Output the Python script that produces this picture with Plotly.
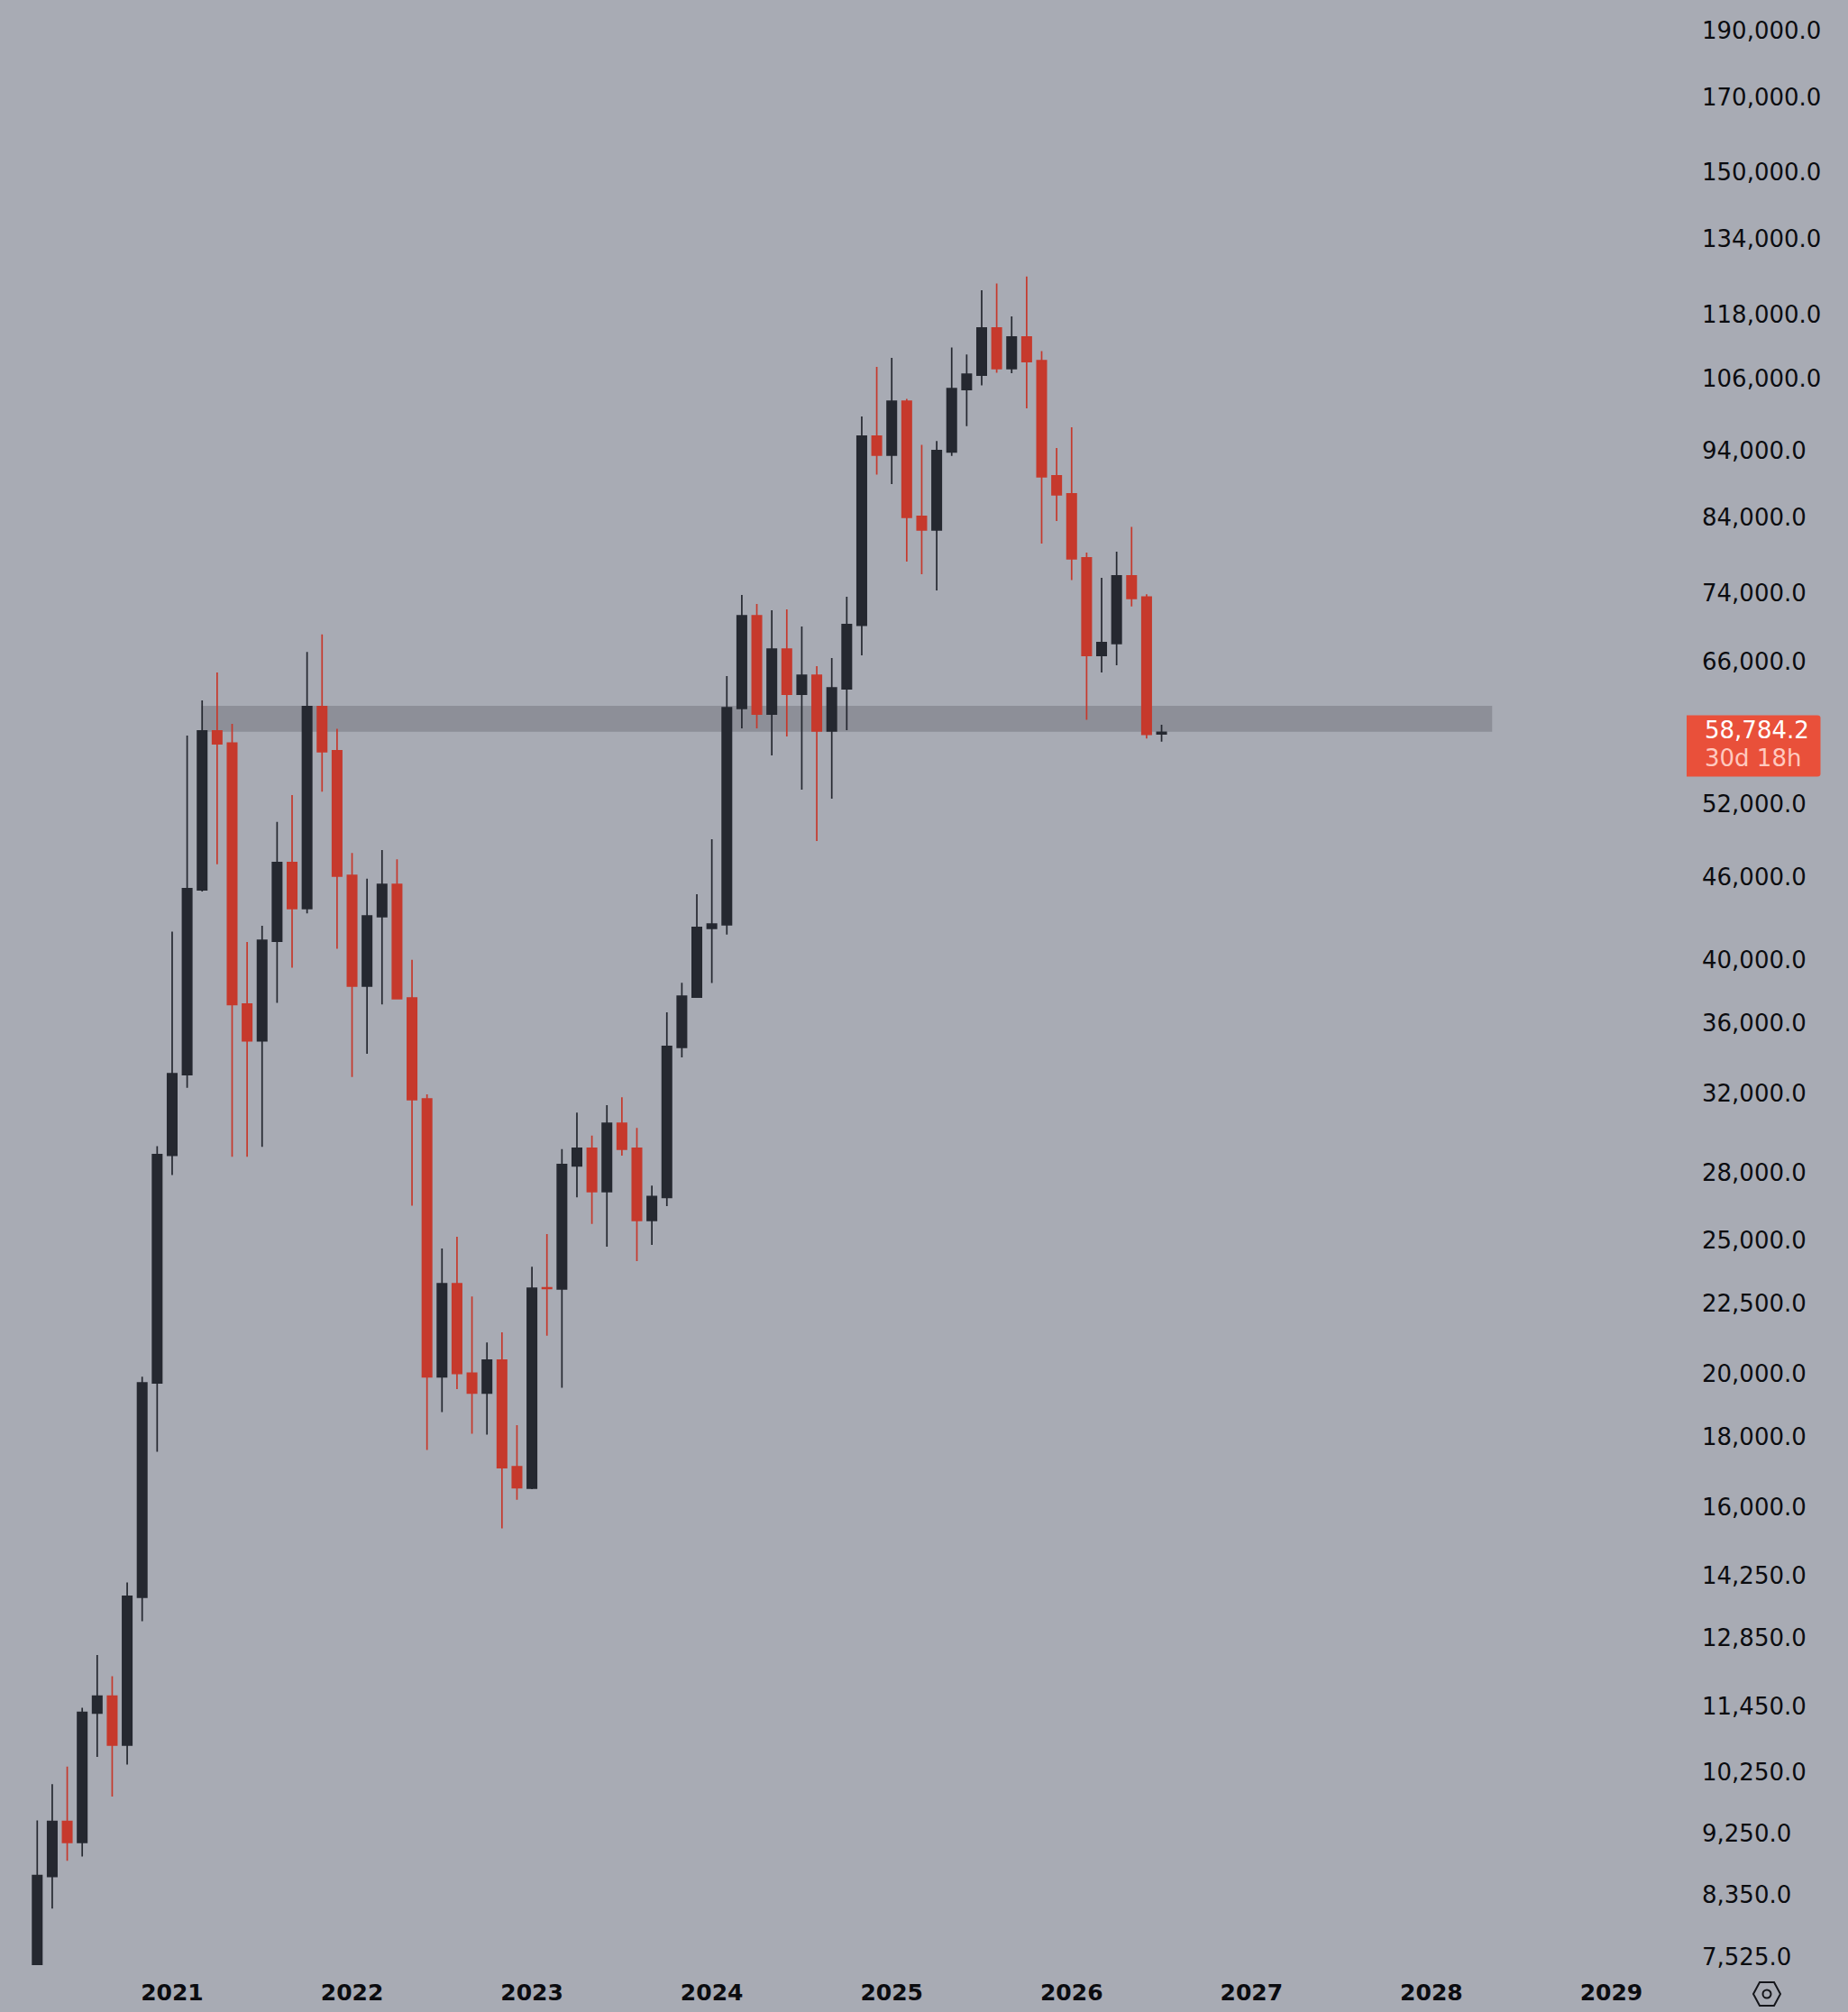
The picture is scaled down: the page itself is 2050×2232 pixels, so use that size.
import math
import pandas as pd
import plotly.graph_objects as go

# Monthly candles starting April 2020
months = pd.period_range("2020-04", periods=76, freq="M").astype(str).tolist()

opens = [6646, 8636, 9470, 9142, 11359, 11683, 10766, 13791, 19751, 28930, 33120, 45140, 58920, 57740, 37270, 35050,
         41420, 47250, 43750, 61380, 56990, 46250, 38410, 43150, 45550, 37660, 31800, 19958, 23330, 20080, 19419, 20520,
         17164, 16555, 23170, 23120, 28420, 29270, 27220, 30520, 29270, 25940, 26960, 34670, 37710, 42310, 42570, 61180,
         71480, 60620, 67590, 62670, 64690, 58910, 63240, 70340, 96570, 93540, 102410, 84420, 82520, 94050, 104430,
         106980, 115760, 108150, 114030, 109620, 90360, 87670, 78750, 66870, 68220, 76400, 73730, 58620]
highs = [9485, 10081, 10384, 11461, 12518, 12083, 14139, 19958, 29380, 42090, 58470, 62020, 64980, 59620, 41360, 42500,
         50580, 52920, 67270, 69260, 59120, 48020, 45990, 48250, 47520, 40140, 32040, 24750, 25240, 22830, 21140, 21500,
         18405, 24000, 25350, 29230, 31080, 29900, 31470, 31890, 30290, 27500, 36760, 38630, 44810, 49140, 64600, 74010,
         72900, 72130, 72240, 70190, 65680, 66580, 73780, 99800, 108450, 110100, 102800, 95160, 95780, 112060, 110750,
         123310, 124720, 118030, 126200, 111360, 94660, 98040, 79460, 76150, 79560, 82940, 74080, 59530]
lows = [6497, 8185, 8867, 8932, 10553, 9873, 10417, 13250, 17597, 27990, 32400, 45020, 47120, 28860, 28860, 29340,
        37350, 39620, 43390, 53210, 40900, 32990, 34300, 37250, 37610, 26590, 17653, 18807, 19546, 18143, 18113, 15479,
        16241, 16530, 21380, 19593, 26960, 25790, 24820, 28910, 24230, 24900, 26570, 34090, 37660, 38610, 41890, 59180,
        59180, 56550, 58380, 53400, 48990, 52600, 59000, 66870, 90560, 89110, 78270, 76610, 74570, 93440, 98190,
        105160, 107390, 107340, 101200, 80670, 83780, 75860, 60020, 64980, 65790, 72580, 58170, 57880]
closes = [8650, 9470, 9142, 11369, 11683, 10766, 13814, 19751, 28960, 33170, 45230, 58920, 57670, 37250, 35050, 41480,
          47250, 43750, 61380, 56910, 46190, 38410, 43210, 45550, 37610, 31760, 19958, 23330, 20070, 19419, 20520, 17138,
          16570, 23150, 23140, 28490, 29270, 27220, 30520, 29230, 25940, 27000, 34720, 37770, 42380, 42630, 61270, 71480,
          60620, 67590, 62670, 64690, 58910, 63340, 70410, 96570, 93540, 102410, 84290, 82520, 94250, 104590, 107160,
          115760, 108150, 114030, 109440, 90220, 87530, 78620, 66870, 68320, 76400, 73570, 58590, 58784.2]

price_ticks = [190000, 170000, 150000, 134000, 118000, 106000, 94000, 84000, 74000, 66000, 52000, 46000, 40000, 36000,
               32000, 28000, 25000, 22500, 20000, 18000, 16000, 14250, 12850, 11450, 10250, 9250, 8350, 7525]
year_ticks = [2021, 2022, 2023, 2024, 2025, 2026, 2027, 2028, 2029]

last_price = 58784.2
countdown = "30d 18h"
zone_low, zone_high = 58850, 61460

BG = "#a8abb4"
UP = "#252830"
DOWN = "#c6392c"
INK = "#0b0c10"
BADGE = "#e9503a"
FONT = "DejaVu Sans"

W, H = 2050, 2232
plot_right, plot_bottom = 1880, 2180
bar_px, first_bar_px = 16.63, 41.3
px_per_ln, top_offset = 661.8, 36

positions = list(range(len(months)))
year_positions = [(y - 2020) * 12 - 3 for y in year_ticks]

x_range = [-first_bar_px / bar_px, (plot_right - first_bar_px) / bar_px]
y_top = math.log10(190000) + top_offset / px_per_ln / math.log(10)
y_bottom = math.log10(190000) - (plot_bottom - top_offset) / px_per_ln / math.log(10)

fig = go.Figure(
    go.Candlestick(
        x=positions, open=opens, high=highs, low=lows, close=closes,
        increasing=dict(line=dict(color=UP, width=1.7), fillcolor=UP),
        decreasing=dict(line=dict(color=DOWN, width=1.7), fillcolor=DOWN),
        whiskerwidth=0,
        hoverinfo="skip",
        showlegend=False,
    )
)

# Horizontal support zone behind the candles
fig.add_shape(type="rect", layer="below", xref="x", yref="y", x0=10.95, x1=97.05, y0=zone_low, y1=zone_high,
              fillcolor="#8d8f98", line_width=0)

# Last-price badge on the price scale
fig.add_shape(type="path", layer="above", xref="paper", yref="y", xsizemode="pixel", ysizemode="pixel",
              xanchor=1871 / plot_right, yanchor=last_price,
              path="M0,19 L145,19 Q148.5,19 148.5,16 L148.5,-46 Q148.5,-49 145,-49 L0,-49 Z",
              fillcolor=BADGE, line_width=0)
fig.add_annotation(xref="paper", yref="y", x=1889 / plot_right, y=math.log10(last_price), yshift=2,
                   xanchor="left", yanchor="middle", showarrow=False, text=f"{last_price:,.1f}",
                   font=dict(family=FONT, size=26, color="#ffffff"))
fig.add_annotation(xref="paper", yref="y", x=1889 / plot_right, y=math.log10(last_price), yshift=-29,
                   xanchor="left", yanchor="middle", showarrow=False, text=countdown,
                   font=dict(family=FONT, size=26, color="#ffc9bf"))

# Scale-settings hexagon in the bottom-right corner
fig.add_shape(type="path", layer="above", xref="paper", yref="paper", xsizemode="pixel", ysizemode="pixel",
              xanchor=1960 / plot_right, yanchor=(plot_bottom - 2212) / plot_bottom,
              path="M-15,0 L-8,13 L8,13 L15,0 L8,-13 L-8,-13 Z",
              fillcolor="rgba(0,0,0,0)", line=dict(color="#15161b", width=2))
fig.add_shape(type="circle", layer="above", xref="paper", yref="paper", xsizemode="pixel", ysizemode="pixel",
              xanchor=1960 / plot_right, yanchor=(plot_bottom - 2212) / plot_bottom,
              x0=-4.5, x1=4.5, y0=-4.5, y1=4.5,
              fillcolor="rgba(0,0,0,0)", line=dict(color="#15161b", width=2))

fig.update_layout(
    width=W, height=H,
    margin=dict(l=0, r=W - plot_right, t=0, b=H - plot_bottom, pad=0),
    paper_bgcolor=BG, plot_bgcolor=BG,
    boxgap=0.38, boxgroupgap=0,
    showlegend=False,
    xaxis=dict(
        range=x_range, rangeslider_visible=False, showgrid=False, zeroline=False, showline=False,
        tickmode="array", tickvals=year_positions, ticktext=[str(y) for y in year_ticks],
        ticks="", tickfont=dict(family=FONT, size=25, color=INK, weight=700), ticklabelstandoff=13,
    ),
    yaxis=dict(
        type="log", side="right", range=[y_bottom, y_top], showgrid=False, zeroline=False, showline=False,
        tickmode="array", tickvals=price_ticks, ticktext=[f"{t:,.1f}" for t in price_ticks],
        ticks="", tickfont=dict(family=FONT, size=26, color=INK), ticklabelstandoff=7, ticklabelshift=-2,
    ),
)

fig.write_html("out.html")
